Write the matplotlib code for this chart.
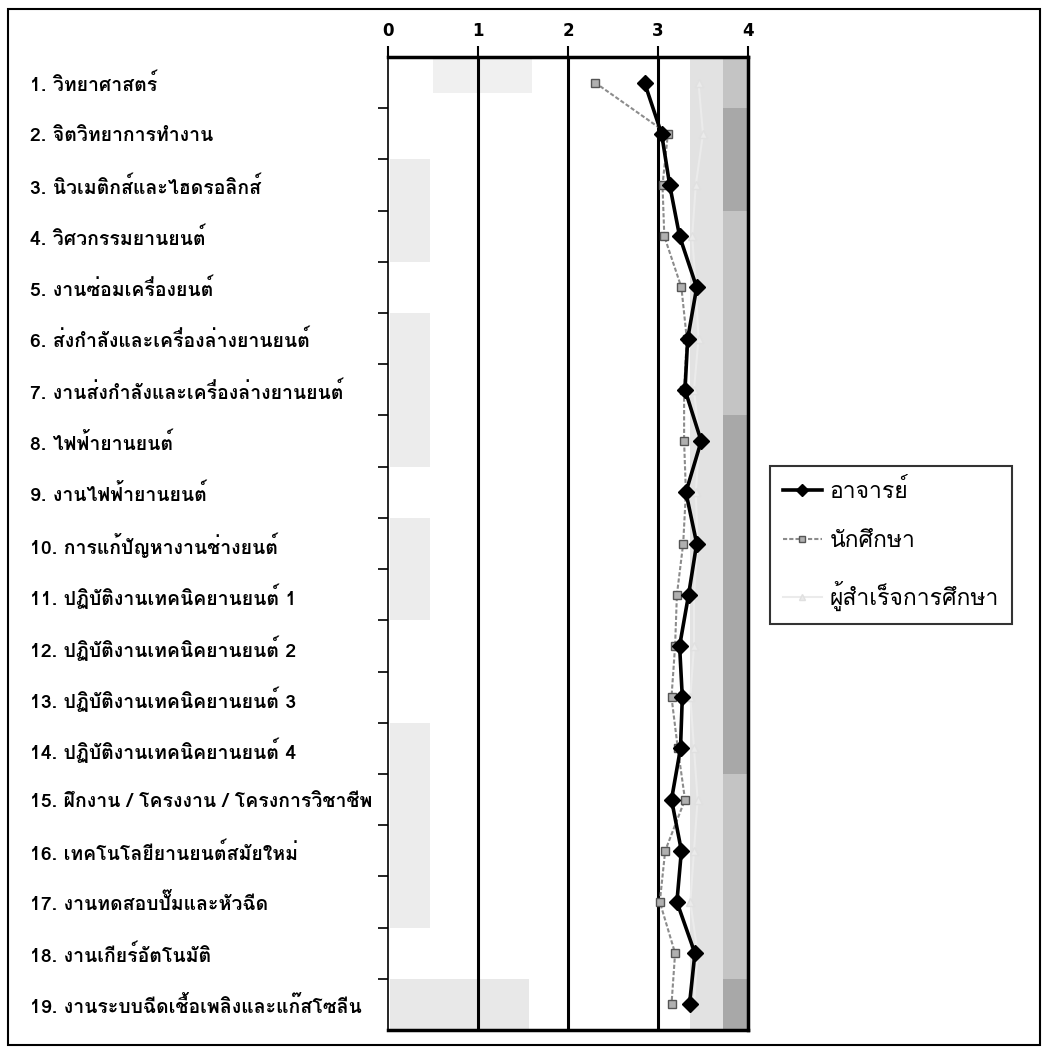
import numpy as np
import matplotlib
matplotlib.use("Agg")
import matplotlib.pyplot as plt
from matplotlib import font_manager
from matplotlib.ft2font import FT2Font
from matplotlib.patches import Rectangle

subjects = [
    "1. วิทยาศาสตร์",
    "2. จิตวิทยาการทำงาน",
    "3. นิวเมติกส์และไฮดรอลิกส์",
    "4. วิศวกรรมยานยนต์",
    "5. งานซ่อมเครื่องยนต์",
    "6. ส่งกำลังและเครื่องล่างยานยนต์",
    "7. งานส่งกำลังและเครื่องล่างยานยนต์",
    "8. ไฟฟ้ายานยนต์",
    "9. งานไฟฟ้ายานยนต์",
    "10. การแก้ปัญหางานช่างยนต์",
    "11. ปฏิบัติงานเทคนิคยานยนต์ 1",
    "12. ปฏิบัติงานเทคนิคยานยนต์ 2",
    "13. ปฏิบัติงานเทคนิคยานยนต์ 3",
    "14. ปฏิบัติงานเทคนิคยานยนต์ 4",
    "15. ฝึกงาน / โครงงาน / โครงการวิชาชีพ",
    "16. เทคโนโลยียานยนต์สมัยใหม่",
    "17. งานทดสอบปั๊มและหัวฉีด",
    "18. งานเกียร์อัตโนมัติ",
    "19. งานระบบฉีดเชื้อเพลิงและแก๊สโซลีน",
]
teachers = [2.85, 3.04, 3.13, 3.24, 3.43, 3.33, 3.30, 3.48, 3.31, 3.43,
            3.34, 3.24, 3.27, 3.25, 3.15, 3.26, 3.21, 3.41, 3.35]
students = [2.30, 3.11, 3.05, 3.07, 3.26, 3.32, 3.29, 3.29, 3.31, 3.28,
            3.21, 3.19, 3.15, 3.22, 3.30, 3.08, 3.02, 3.19, 3.15]
graduates = [3.45, 3.50, 3.42, 3.38, 3.42, 3.45, 3.40, 3.46, 3.42, 3.44,
             3.40, 3.40, 3.36, 3.40, 3.44, 3.40, 3.36, 3.44, 3.40]
series_names = ["อาจารย์", "นักศึกษา", "ผู้สำเร็จการศึกษา"]
x_ticks = [0, 1, 2, 3, 4]

# find an installed font that has Thai glyphs
thai_family = None
for f in font_manager.fontManager.ttflist:
    try:
        cmap = FT2Font(f.fname).get_charmap()
    except Exception:
        continue
    if 0x0E27 in cmap and 0x0E34 in cmap and 0x0E01 in cmap:
        thai_family = f.name
        break
families = ([thai_family] if thai_family else []) + ["DejaVu Sans"]
plt.rcParams["font.family"] = families

n = len(subjects)
rows = np.arange(n)

fig = plt.figure(figsize=(10.49, 10.54), dpi=100)
ax = fig.add_axes([388 / 1049, 1 - 1030 / 1054, 360 / 1049, 973 / 1054])

# scanned shading bands
ax.axvspan(3.35, 4.0, color="#e2e2e2", zorder=0, lw=0)
dark_rows = [1, 2, 7, 8, 9, 10, 11, 12, 13, 18]
for r in range(n):
    shade = "#a8a8a8" if r in dark_rows else "#c4c4c4"
    ax.add_patch(Rectangle((3.72, r - 0.5), 0.28, 1, color=shade, lw=0, zorder=0))
left_rows = [2, 3, 5, 6, 7, 9, 10, 13, 14, 15, 16, 18]
for r in left_rows:
    ax.add_patch(Rectangle((0.02, r - 0.5), 0.45, 1, color="#ececec", lw=0, zorder=0))
ax.add_patch(Rectangle((0.5, -0.5), 1.1, 0.7, color="#f0f0f0", lw=0, zorder=0))
ax.add_patch(Rectangle((0.02, n - 1.5), 1.55, 1, color="#e8e8e8", lw=0, zorder=0))

for xv in [1, 2, 3]:
    ax.axvline(xv, color="black", lw=2.2, zorder=1)

l_grad, = ax.plot(graduates, rows, color="#ebebeb", lw=1.5, marker="^", ms=6,
                  mfc="#ebebeb", mec="#e0e0e0", label=series_names[2], zorder=2)
l_stud, = ax.plot(students, rows, color="#8c8c8c", lw=1.5, ls=(0, (2, 1)), marker="s", ms=6,
                  mfc="#b0b0b0", mec="#555555", label=series_names[1], zorder=3)
l_teach, = ax.plot(teachers, rows, color="black", lw=2.6, marker="D", ms=8,
                   mfc="black", mec="black", label=series_names[0], zorder=4)

ax.set_xlim(0, 4)
ax.set_ylim(n - 0.5, -0.5)
ax.xaxis.tick_top()
ax.set_xticks(x_ticks)
ax.set_xticklabels([str(t) for t in x_ticks], fontsize=12, fontweight="bold",
                   family=["DejaVu Sans"])
ax.tick_params(axis="x", length=8, width=1.5, pad=4)

ax.set_yticks(rows)
ax.set_yticks(np.arange(n - 1) + 0.5, minor=True)
ax.set_yticklabels(subjects, fontsize=14, fontweight="bold")
ax.tick_params(axis="y", which="major", length=0, pad=(388 - 30) * 0.72)
ax.tick_params(axis="y", which="minor", length=7, width=1.2)
for lab in ax.get_yticklabels():
    lab.set_ha("left")

for side in ["top", "right", "bottom"]:
    ax.spines[side].set_linewidth(2.5)
ax.spines["left"].set_linewidth(1.2)

leg = fig.legend(handles=[l_teach, l_stud, l_grad], loc="center left",
                 bbox_to_anchor=(770 / 1049, 1 - 545 / 1054),
                 fontsize=16.5, frameon=True, fancybox=False, edgecolor="black",
                 handlelength=1.7, handletextpad=0.35, labelspacing=1.25,
                 borderpad=0.55, borderaxespad=0, markerscale=0.8)
leg.get_frame().set_linewidth(1.5)

fig.patches.append(Rectangle((8 / 1049, 9 / 1054), 1032 / 1049, 1036 / 1054,
                             transform=fig.transFigure, fill=False,
                             edgecolor="black", lw=1.5))

fig.savefig("out.png", dpi=100)
